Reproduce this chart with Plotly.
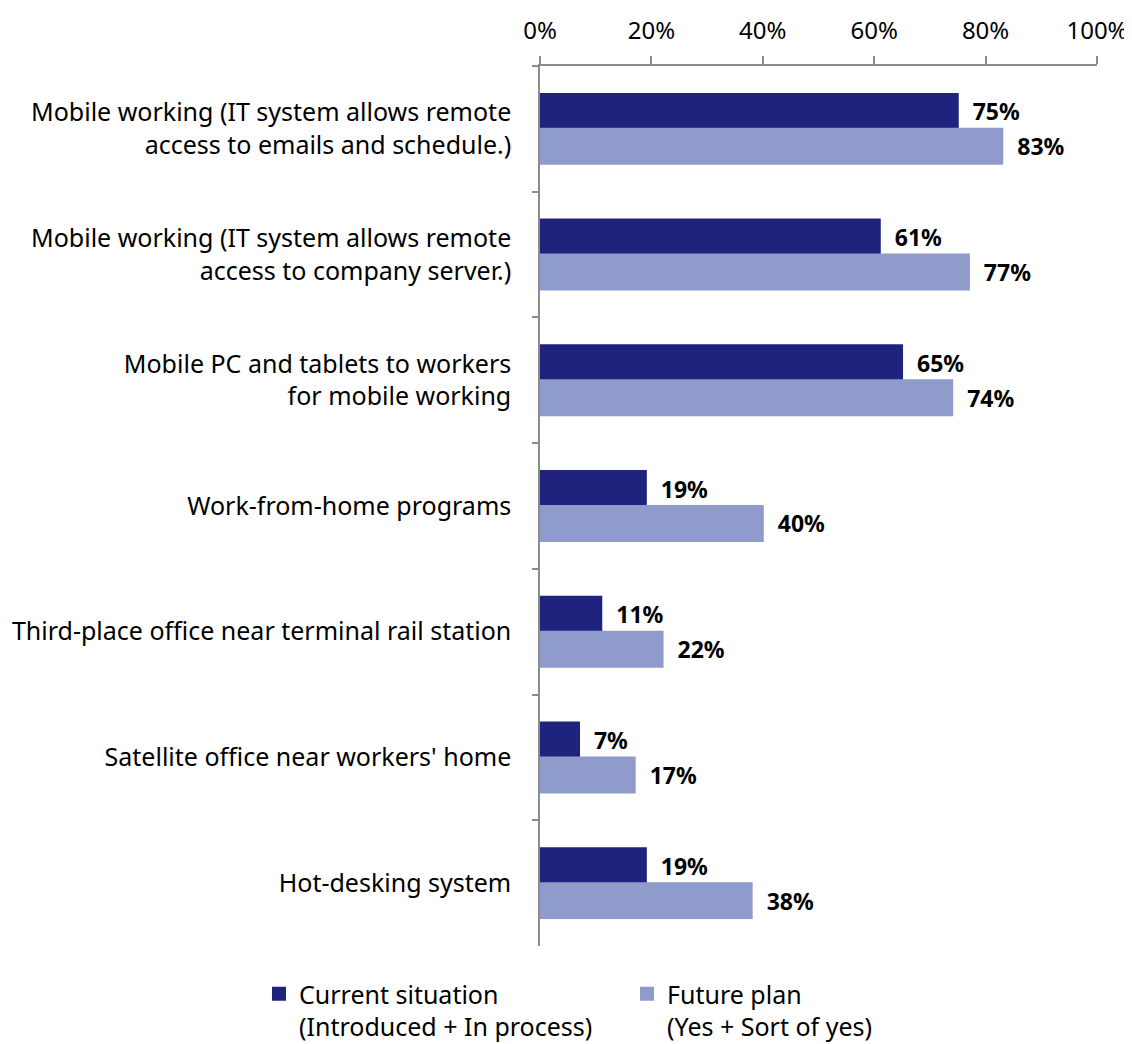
import plotly.graph_objects as go

categories = [
    "Mobile working (IT system allows remote<br>access to emails and schedule.)",
    "Mobile working (IT system allows remote<br>access to company server.)",
    "Mobile PC and tablets to workers<br>for mobile working",
    "Work-from-home programs",
    "Third-place office near terminal rail station",
    "Satellite office near workers' home",
    "Hot-desking system",
]
current = [0.75, 0.61, 0.65, 0.19, 0.11, 0.07, 0.19]
future = [0.83, 0.77, 0.74, 0.40, 0.22, 0.17, 0.38]
series_names = ["Current situation<br>(Introduced + In process)",
                "Future plan<br>(Yes + Sort of yes)"]
x_ticks = [0, 0.2, 0.4, 0.6, 0.8, 1.0]
x_tick_text = ["0%", "20%", "40%", "60%", "80%", "100%"]

FONT = "Noto Sans, Open Sans, sans-serif"
NBSP = "\u00a0"
fig = go.Figure()
for name, vals, color in [(series_names[0], current, "#1F237D"),
                          (series_names[1], future, "#8F9BCB")]:
    fig.add_trace(go.Bar(
        y=categories, x=vals, orientation="h", name=name,
        marker=dict(color=color, line=dict(width=2, color=color)),
        text=[f"<b>{round(v*100)}%</b>" for v in vals],
        texttemplate=NBSP * 2 + "%{text}",
        textposition="outside", constraintext="none", cliponaxis=False,
        textfont=dict(family=FONT, size=23, color="black"),
    ))

fig.update_layout(
    width=1124, height=1036,
    margin=dict(l=532, r=35, t=58, b=98, autoexpand=False),
    paper_bgcolor="white", plot_bgcolor="white",
    barmode="group", bargap=0.444, bargroupgap=0,
    font=dict(family=FONT, size=25, color="black"),
    showlegend=True,
    legend=dict(orientation="h", x=-0.5045, xanchor="left",
                y=-0.0285, yanchor="top",
                valign="top", entrywidth=323, entrywidthmode="pixels",
                font=dict(size=25), traceorder="normal", itemclick=False),
)
fig.update_xaxes(
    side="top", range=[0, 1], tickvals=x_ticks, ticktext=x_tick_text,
    showgrid=False, zeroline=False, showline=True, linecolor="#8C8C8C", linewidth=1.5,
    ticks="outside", ticklen=8, tickcolor="#8C8C8C", tickwidth=1.5,
    ticklabelstandoff=8, tickfont=dict(size=24, family=FONT), automargin=False,
)
fig.update_yaxes(
    autorange="reversed", showgrid=False, showline=True, linecolor="#8C8C8C", linewidth=1.5,
    ticks="outside", ticklen=6, tickcolor="#8C8C8C", tickwidth=1.5, tickson="boundaries",
    ticklabelstandoff=22, tickfont=dict(size=25, family=FONT), automargin=False,
)
fig.write_html("out.html")
